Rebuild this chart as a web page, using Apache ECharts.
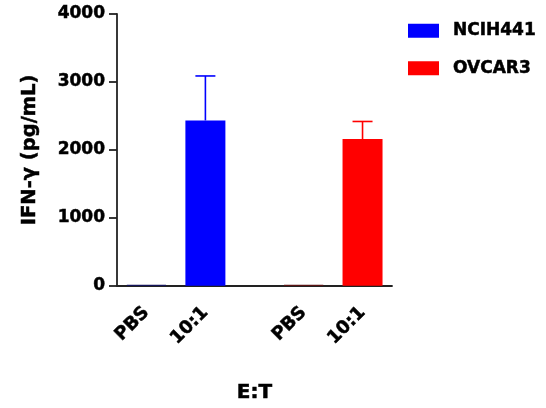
<!DOCTYPE html>
<html>
<head>
<meta charset="utf-8">
<script src="https://cdn.jsdelivr.net/npm/echarts@6/dist/echarts.min.js"></script>
<style>
  html, body { margin: 0; padding: 0; background: #fff; }
  #chart { width: 546px; height: 408px; }
</style>
</head>
<body>
<div id="chart"></div>
<script>
// ---- data ----
const xLabels = ['PBS', '10:1', 'PBS', '10:1'];
const seriesNames = ['NCIH441', 'OVCAR3'];
const ncih441Mean = [10, 2433];
const ncih441SD = [0, 655];
const ovcar3Mean = [10, 2160];
const ovcar3SD = [0, 258];
const yMin = 0, yMax = 4000, yStep = 1000;
const xTitle = 'E:T';
const yTitle = 'IFN-γ (pg/mL)';

// ---- layout (slot positions on the category band) ----
const N_SLOTS = 14;
const slotOf = [1, 4, 9, 12];
const slotCats = Array.from({ length: N_SLOTS }, (_, i) => String(i));
const slotLabels = Array(N_SLOTS).fill('');
slotOf.forEach((s, i) => { slotLabels[s] = xLabels[i]; });

const colors = ['#0000FF', '#FF0000'];
const edgeColors = ['#14145a', '#5a1414'];
const FONT = 'DejaVu Sans';
const heavy = { textBorderColor: '#000', textBorderWidth: 0.5 };

function barData(means, slots, edge) {
  const d = Array(N_SLOTS).fill('-');
  slots.forEach((s, i) => {
    d[s] = i === 0
      ? { value: means[i], itemStyle: { borderColor: edge, borderWidth: 1.2 } }
      : means[i];
  });
  return d;
}
function errData(means, sds, slots) {
  return slots.map((s, i) => [s, means[i], sds[i]]);
}
function errRender(color) {
  return function (params, api) {
    const x = api.value(0), m = api.value(1), e = api.value(2);
    if (!e) return null;
    const p0 = api.coord([x, m]);
    const p1 = api.coord([x, m + e]);
    const half = 10;
    return {
      type: 'group',
      children: [
        { type: 'line', shape: { x1: p0[0], y1: p0[1], x2: p1[0], y2: p1[1] },
          style: { stroke: color, lineWidth: 1.6 } },
        { type: 'line', shape: { x1: p1[0] - half, y1: p1[1], x2: p1[0] + half, y2: p1[1] },
          style: { stroke: color, lineWidth: 1.6 } }
      ]
    };
  };
}

const groupSlots = [[slotOf[0], slotOf[1]], [slotOf[2], slotOf[3]]];

const chart = echarts.init(document.getElementById('chart'));
chart.setOption({
  animation: false,
  backgroundColor: '#fff',
  textStyle: { fontFamily: FONT },
  grid: { left: 117, right: 154, top: 14, bottom: 120, containLabel: false },
  legend: {
    data: seriesNames,
    orient: 'vertical',
    left: 403,
    top: 17,
    itemWidth: 31,
    itemHeight: 14,
    itemGap: 20,
    icon: 'rect',
    textStyle: Object.assign({ fontFamily: FONT, fontWeight: 'bold', fontSize: 17, color: '#000', padding: [0, 0, 0, 9] }, heavy)
  },
  xAxis: {
    type: 'category',
    data: slotCats,
    name: xTitle,
    nameLocation: 'middle',
    nameGap: 97,
    nameTextStyle: Object.assign({ fontFamily: FONT, fontWeight: 'bold', fontSize: 20, color: '#000' }, heavy),
    axisLine: { lineStyle: { color: '#222', width: 1.8 } },
    axisTick: {
      alignWithLabel: true,
      length: 7,
      interval: (i) => slotLabels[i] !== '',
      lineStyle: { color: '#222', width: 1.8 }
    },
    axisLabel: Object.assign({
      interval: (i) => slotLabels[i] !== '',
      formatter: (v, i) => slotLabels[i],
      rotate: 45,
      margin: 24,
      fontFamily: FONT, fontWeight: 'bold', fontSize: 18, color: '#000'
    }, heavy),
    splitLine: { show: false }
  },
  yAxis: {
    type: 'value',
    min: yMin, max: yMax, interval: yStep,
    name: yTitle,
    nameLocation: 'middle',
    nameRotate: 90,
    nameGap: 77,
    nameTextStyle: Object.assign({ fontFamily: FONT, fontWeight: 'bold', fontSize: 19.5, color: '#000' }, heavy),
    axisLine: { show: true, lineStyle: { color: '#222', width: 1.8 } },
    axisTick: { show: true, length: 8, lineStyle: { color: '#222', width: 1.8 } },
    axisLabel: Object.assign({
      margin: 12,
      formatter: (v) => String(v),
      fontFamily: FONT, fontWeight: 'bold', fontSize: 17, color: '#000'
    }, heavy),
    splitLine: { show: false }
  },
  series: [
    {
      name: seriesNames[0], type: 'bar', barWidth: 40, barGap: '-100%',
      itemStyle: { color: colors[0] },
      data: barData(ncih441Mean, groupSlots[0], edgeColors[0])
    },
    {
      name: seriesNames[1], type: 'bar', barWidth: 40, barGap: '-100%',
      itemStyle: { color: colors[1] },
      data: barData(ovcar3Mean, groupSlots[1], edgeColors[1])
    },
    {
      name: seriesNames[0] + ' SD', type: 'custom', z: 5,
      renderItem: errRender(colors[0]),
      encode: { x: 0, y: [1, 2] },
      data: errData(ncih441Mean, ncih441SD, groupSlots[0])
    },
    {
      name: seriesNames[1] + ' SD', type: 'custom', z: 5,
      renderItem: errRender(colors[1]),
      encode: { x: 0, y: [1, 2] },
      data: errData(ovcar3Mean, ovcar3SD, groupSlots[1])
    }
  ]
});
</script>
</body>
</html>
